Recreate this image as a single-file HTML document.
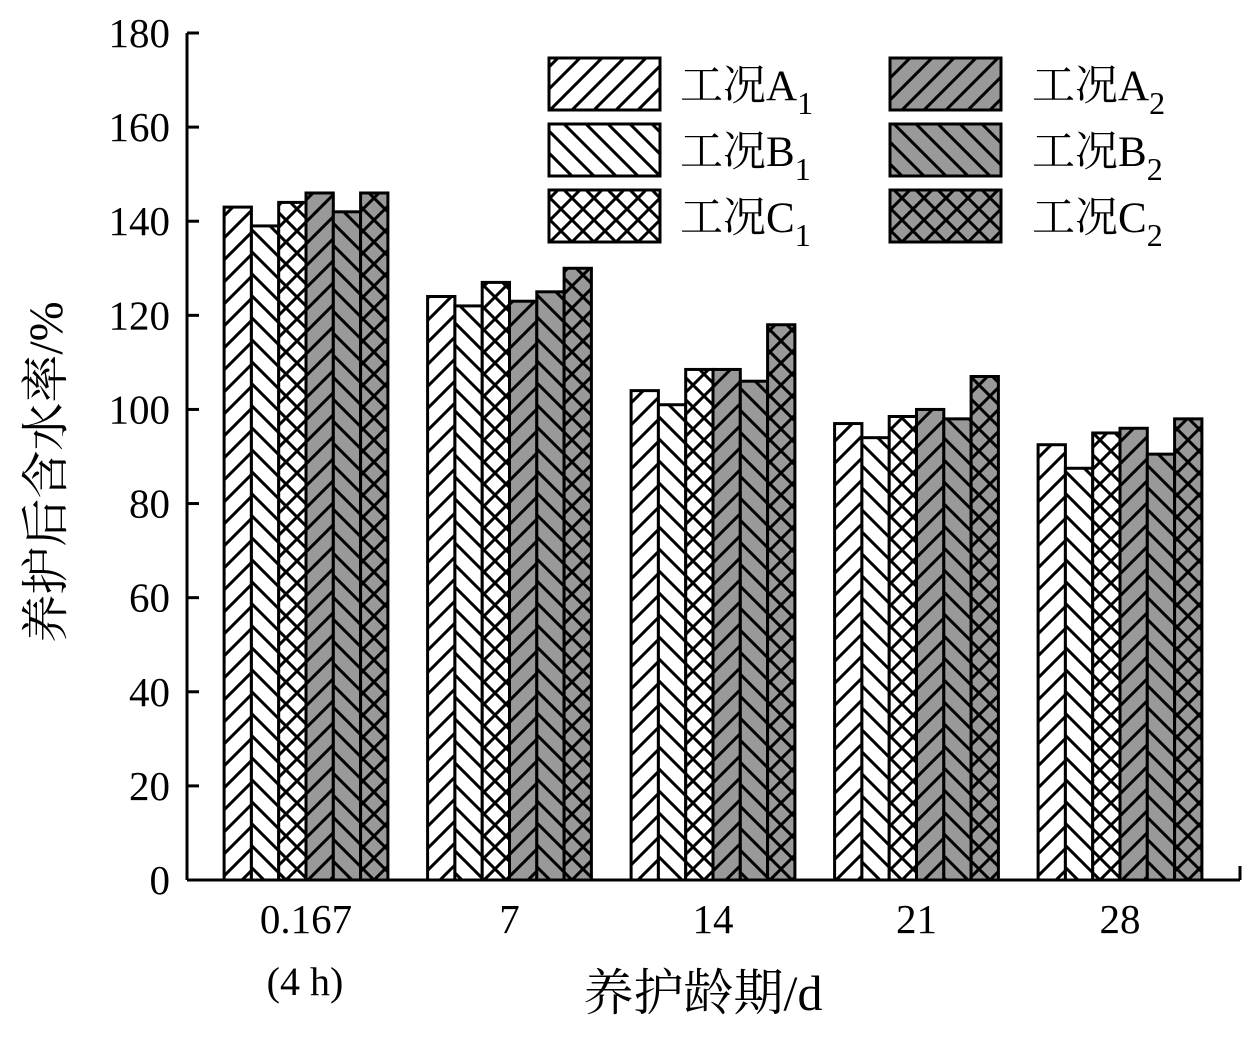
<!DOCTYPE html>
<html><head><meta charset="utf-8"><style>body{margin:0;background:#fff}svg text{font-family:"Liberation Serif","Noto Serif CJK SC",serif;fill:#000}</style></head>
<body>
<svg id="c" width="1253" height="1032" xmlns="http://www.w3.org/2000/svg">
<defs>
<pattern id="pf" patternUnits="userSpaceOnUse" width="22" height="22"><path d="M-2,24 L24,-2 M-13,13 L13,-13 M9,35 L35,9" stroke="#000" stroke-width="3"/></pattern>
<pattern id="pb" patternUnits="userSpaceOnUse" width="22" height="22"><path d="M-2,-2 L24,24 M-13,9 L13,35 M9,-13 L35,13" stroke="#000" stroke-width="3"/></pattern>
<pattern id="px" patternUnits="userSpaceOnUse" width="22" height="22"><path d="M-2,24 L24,-2 M-13,13 L13,-13 M9,35 L35,9 M-2,-2 L24,24 M-13,9 L13,35 M9,-13 L35,13" stroke="#000" stroke-width="3"/></pattern>
</defs>
<g id="bars"></g><g id="legend"></g>
<g id="yaxis"></g>
<line x1="187" y1="880" x2="1240" y2="880" stroke="#000" stroke-width="3"/>
<line x1="1240" y1="880" x2="1240" y2="866" stroke="#000" stroke-width="3"/>
<g id="xlabels"></g>
<text x="305" y="995" font-size="40" text-anchor="middle">(4 h)</text>
<text x="703" y="1010" font-size="50" text-anchor="middle">养护龄期/d</text>
<text transform="translate(62,472) rotate(-90)" font-size="48" text-anchor="middle">养护后含水率/%</text>
</svg>
<script>
const categories=["0.167","7","14","21","28"];
const A1=[143,124,104,97,92.5];
const B1=[139,122,101,94,87.5];
const C1=[144,127,108.5,98.5,95];
const A2=[146,123,108.5,100,96];
const B2=[142,125,106,98,90.5];
const C2=[146,130,118,107,98];
const yTicks=[0,20,40,60,80,100,120,140,160,180];
const series=[{n:"A",s:"1",v:A1,f:"pf",g:"#fff"},{n:"B",s:"1",v:B1,f:"pb",g:"#fff"},{n:"C",s:"1",v:C1,f:"px",g:"#fff"},{n:"A",s:"2",v:A2,f:"pf",g:"#999"},{n:"B",s:"2",v:B2,f:"pb",g:"#999"},{n:"C",s:"2",v:C2,f:"px",g:"#999"}];
const NS="http://www.w3.org/2000/svg";
const y=v=>880-v*(847/180);
const xc=i=>306+203.5*i;
const bw=27.3;
function mk(t,a,p){const e=document.createElementNS(NS,t);for(const k in a)e.setAttribute(k,a[k]);p.appendChild(e);return e;}
const bars=document.getElementById('bars');
series.forEach((s,j)=>{s.v.forEach((v,i)=>{
 const x=xc(i)-3*bw+j*bw;
 const g=mk('g',{},bars);
 
 
 mk('rect',{x:x,y:y(v),width:bw,height:880-y(v),fill:s.g},g);
 mk('rect',{x:x,y:y(v),width:bw,height:880-y(v),fill:'url(#'+s.f+')',stroke:'#000','stroke-width':3},g);
});});
const leg=document.getElementById('legend');
series.forEach((s,j)=>{
 const col=j<3?0:1,row=j%3;
 const lx=col?890:549,ly=58+row*66;
 const g=mk('g',{},leg);
 
 
 mk('rect',{x:lx,y:ly,width:111,height:52,fill:s.g},g);
 mk('rect',{x:lx,y:ly,width:111,height:52,fill:'url(#'+s.f+')',stroke:'#000','stroke-width':3},g);
 const t=mk('text',{x:col?1032:680,y:ly+42,'font-size':43},g);
 t.innerHTML='工况'+s.n+'<tspan font-size="32" dy="14">'+s.s+'</tspan>';
});
const ya=document.getElementById('yaxis');
mk('line',{x1:187,y1:33,x2:187,y2:880,stroke:'#000','stroke-width':3},ya);
yTicks.forEach(t=>{
 mk('line',{x1:187,y1:y(t),x2:199,y2:y(t),stroke:'#000','stroke-width':3},ya);
 const e=mk('text',{x:170,y:y(t)+14,'font-size':41,'text-anchor':'end'},ya);e.textContent=t;
 
 
});
const xl=document.getElementById('xlabels');
categories.forEach((c,i)=>{
 const e=mk('text',{x:xc(i),y:933,'font-size':41,'text-anchor':'middle'},xl);e.textContent=c;
 
 
});
</script>
</body></html>
